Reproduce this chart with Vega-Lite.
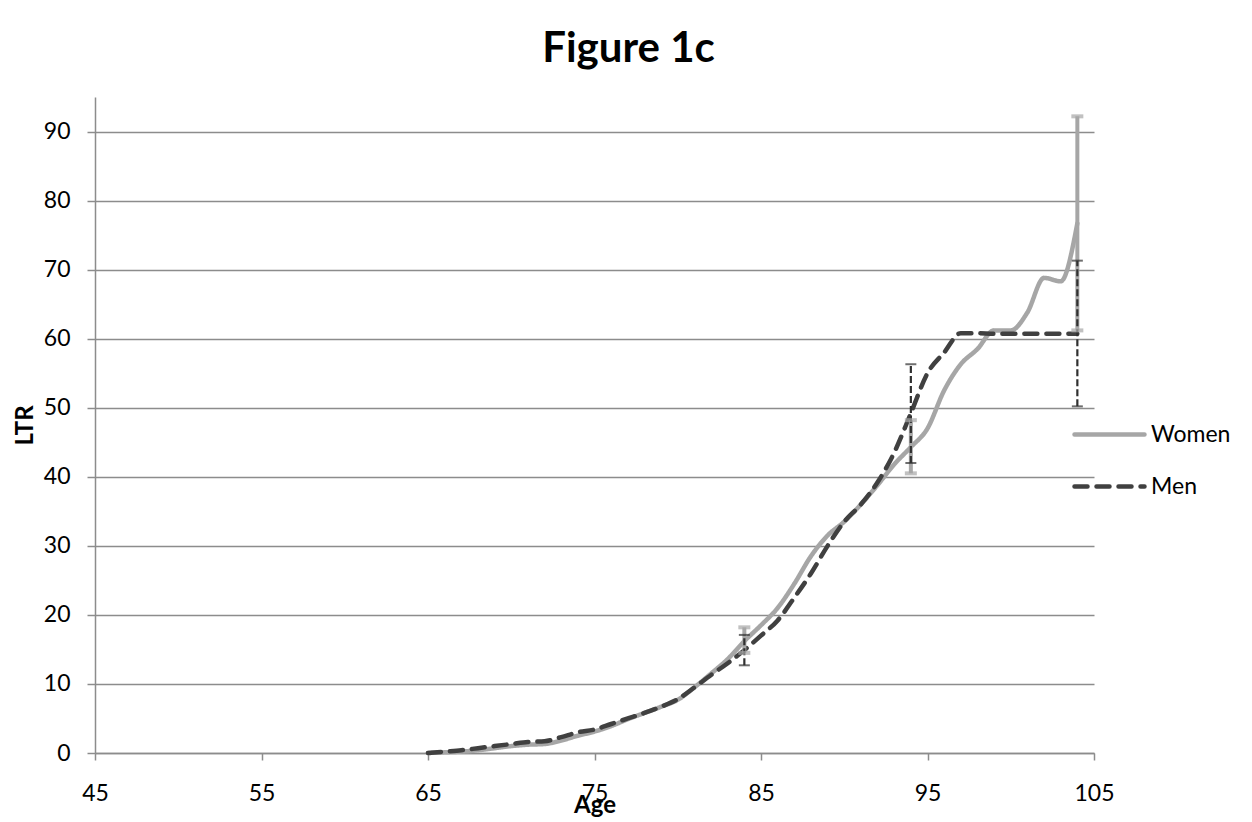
{
  "$schema": "https://vega.github.io/schema/vega-lite/v6.json",
  "autosize": "none",
  "width": 999,
  "height": 656,
  "padding": {"left": 95, "top": 97, "right": 158, "bottom": 69},
  "background": "white",
  "config": {
    "font": "Lato",
    "view": {"stroke": null},
    "axis": {"labelFont": "Lato", "titleFont": "Lato", "labelColor": "black", "titleColor": "black"}
  },
  "title": {"text": "Figure 1c", "fontSize": 42, "fontWeight": "bold", "font": "Lato", "color": "black", "anchor": "middle", "offset": 26, "dx": 34},
  "datasets": {
    "lines": [
      {"age": 65, "LTR": 0, "sex": "Women"}, {"age": 66, "LTR": 0.1, "sex": "Women"}, {"age": 67, "LTR": 0.2, "sex": "Women"}, {"age": 68, "LTR": 0.4, "sex": "Women"}, {"age": 69, "LTR": 0.7, "sex": "Women"}, {"age": 70, "LTR": 1.0, "sex": "Women"}, {"age": 71, "LTR": 1.2, "sex": "Women"}, {"age": 72, "LTR": 1.3, "sex": "Women"}, {"age": 73, "LTR": 1.8, "sex": "Women"}, {"age": 74, "LTR": 2.5, "sex": "Women"}, {"age": 75, "LTR": 3.1, "sex": "Women"}, {"age": 76, "LTR": 3.9, "sex": "Women"}, {"age": 77, "LTR": 4.9, "sex": "Women"}, {"age": 78, "LTR": 5.8, "sex": "Women"}, {"age": 79, "LTR": 6.7, "sex": "Women"}, {"age": 80, "LTR": 7.7, "sex": "Women"}, {"age": 81, "LTR": 9.5, "sex": "Women"}, {"age": 82, "LTR": 11.5, "sex": "Women"}, {"age": 83, "LTR": 13.6, "sex": "Women"}, {"age": 84, "LTR": 16.2, "sex": "Women"}, {"age": 85, "LTR": 18.5, "sex": "Women"}, {"age": 86, "LTR": 21, "sex": "Women"}, {"age": 87, "LTR": 24.5, "sex": "Women"}, {"age": 88, "LTR": 28.5, "sex": "Women"}, {"age": 89, "LTR": 31.5, "sex": "Women"}, {"age": 90, "LTR": 33.5, "sex": "Women"}, {"age": 91, "LTR": 36, "sex": "Women"}, {"age": 92, "LTR": 38.8, "sex": "Women"}, {"age": 93, "LTR": 41.8, "sex": "Women"}, {"age": 94, "LTR": 44.3, "sex": "Women"}, {"age": 95, "LTR": 47, "sex": "Women"}, {"age": 96, "LTR": 52.5, "sex": "Women"}, {"age": 97, "LTR": 56.3, "sex": "Women"}, {"age": 98, "LTR": 58.5, "sex": "Women"}, {"age": 99, "LTR": 61.2, "sex": "Women"}, {"age": 100, "LTR": 61.2, "sex": "Women"}, {"age": 101, "LTR": 63.8, "sex": "Women"}, {"age": 102, "LTR": 68.8, "sex": "Women"}, {"age": 103, "LTR": 68.3, "sex": "Women"}, {"age": 104, "LTR": 76.7, "sex": "Women"},
      {"age": 65, "LTR": 0, "sex": "Men"}, {"age": 66, "LTR": 0.2, "sex": "Men"}, {"age": 67, "LTR": 0.4, "sex": "Men"}, {"age": 68, "LTR": 0.7, "sex": "Men"}, {"age": 69, "LTR": 1.0, "sex": "Men"}, {"age": 70, "LTR": 1.3, "sex": "Men"}, {"age": 71, "LTR": 1.6, "sex": "Men"}, {"age": 72, "LTR": 1.7, "sex": "Men"}, {"age": 73, "LTR": 2.3, "sex": "Men"}, {"age": 74, "LTR": 3.0, "sex": "Men"}, {"age": 75, "LTR": 3.4, "sex": "Men"}, {"age": 76, "LTR": 4.2, "sex": "Men"}, {"age": 77, "LTR": 5.0, "sex": "Men"}, {"age": 78, "LTR": 5.8, "sex": "Men"}, {"age": 79, "LTR": 6.7, "sex": "Men"}, {"age": 80, "LTR": 7.8, "sex": "Men"}, {"age": 81, "LTR": 9.5, "sex": "Men"}, {"age": 82, "LTR": 11.3, "sex": "Men"}, {"age": 83, "LTR": 13.0, "sex": "Men"}, {"age": 84, "LTR": 14.9, "sex": "Men"}, {"age": 85, "LTR": 17, "sex": "Men"}, {"age": 86, "LTR": 19.2, "sex": "Men"}, {"age": 87, "LTR": 22.5, "sex": "Men"}, {"age": 88, "LTR": 26, "sex": "Men"}, {"age": 89, "LTR": 30, "sex": "Men"}, {"age": 90, "LTR": 33.5, "sex": "Men"}, {"age": 91, "LTR": 36, "sex": "Men"}, {"age": 92, "LTR": 39.2, "sex": "Men"}, {"age": 93, "LTR": 43.5, "sex": "Men"}, {"age": 94, "LTR": 49.2, "sex": "Men"}, {"age": 95, "LTR": 55, "sex": "Men"}, {"age": 96, "LTR": 58, "sex": "Men"}, {"age": 97, "LTR": 60.8, "sex": "Men"}, {"age": 98, "LTR": 60.8, "sex": "Men"}, {"age": 99, "LTR": 60.7, "sex": "Men"}, {"age": 100, "LTR": 60.7, "sex": "Men"}, {"age": 101, "LTR": 60.7, "sex": "Men"}, {"age": 102, "LTR": 60.7, "sex": "Men"}, {"age": 103, "LTR": 60.7, "sex": "Men"}, {"age": 104, "LTR": 60.7, "sex": "Men"}
    ],
    "errs": [
      {"age": 84, "lo": 14.5, "hi": 18.2, "sex": "Women"},
      {"age": 94, "lo": 40.5, "hi": 48.2, "sex": "Women"},
      {"age": 104, "lo": 61.2, "hi": 92.2, "sex": "Women"},
      {"age": 84, "lo": 12.7, "hi": 17.1, "sex": "Men"},
      {"age": 94, "lo": 42.0, "hi": 56.3, "sex": "Men"},
      {"age": 104, "lo": 50.2, "hi": 71.3, "sex": "Men"}
    ]
  },
  "encoding": {
    "x": {"field": "age", "type": "quantitative",
      "scale": {"domain": [45, 105], "nice": false, "zero": false},
      "axis": {"title": "Age", "values": [45, 55, 65, 75, 85, 95, 105], "grid": false, "labelFlush": false, "tickSize": 7, "tickColor": "#8c8c8c", "tickWidth": 1.5, "domainColor": "#8c8c8c", "domainWidth": 1.5, "labelFontSize": 23, "labelPadding": 22, "titleFontSize": 24, "titleFontWeight": "bold", "titlePadding": -12}}
  },
  "layer": [
    {
      "data": {"name": "lines"},
      "mark": {"type": "line", "interpolate": "monotone", "strokeWidth": 4.5, "strokeCap": "round"},
      "encoding": {
        "y": {"field": "LTR", "type": "quantitative",
          "scale": {"domain": [0, 95], "nice": false},
          "axis": {"title": "LTR", "values": [0, 10, 20, 30, 40, 50, 60, 70, 80, 90], "grid": true, "gridColor": "#8c8c8c", "gridWidth": 1.5, "tickSize": 8, "tickColor": "#8c8c8c", "tickWidth": 1.5, "domainColor": "#8c8c8c", "domainWidth": 1.5, "labelFontSize": 23, "labelPadding": 17, "titleFontSize": 24, "titleFontWeight": "bold", "titlePadding": 6}},
        "color": {"field": "sex", "type": "nominal",
          "scale": {"domain": ["Women", "Men"], "range": ["#a6a6a6", "#404040"]},
          "legend": {"title": null, "orient": "none", "legendX": 977, "legendY": 300, "symbolType": "stroke", "symbolSize": 4900, "symbolStrokeWidth": 4.5, "labelFontSize": 23, "labelFont": "Lato", "labelColor": "black", "labelOffset": 4, "rowPadding": 2, "padding": 0,
            "encode": {"symbols": {"update": {"strokeCap": {"value": "round"}, "strokeWidth": {"value": 4.5}}}}}},
        "strokeDash": {"field": "sex", "type": "nominal",
          "scale": {"domain": ["Women", "Men"], "range": [[1, 0], [13, 9]]},
          "legend": {"title": null, "orient": "none", "legendX": 977, "legendY": 300, "symbolType": "stroke", "symbolSize": 4900, "symbolStrokeWidth": 4.5, "labelFontSize": 23, "labelFont": "Lato", "labelColor": "black", "labelOffset": 4, "rowPadding": 2, "padding": 0,
            "encode": {"symbols": {"update": {"strokeCap": {"value": "round"}, "strokeWidth": {"value": 4.5}}}}}}
      }
    },
    {
      "data": {"name": "errs"},
      "transform": [{"filter": "datum.sex === 'Women'"}],
      "mark": {"type": "rule", "color": "#a6a6a6", "strokeWidth": 4},
      "encoding": {
        "y": {"field": "lo", "type": "quantitative"},
        "y2": {"field": "hi"}
      }
    },
    {
      "data": {"name": "errs"},
      "transform": [{"filter": "datum.sex === 'Men'"}],
      "mark": {"type": "rule", "color": "#303030", "strokeWidth": 2.2, "strokeDash": [7, 3]},
      "encoding": {
        "y": {"field": "lo", "type": "quantitative"},
        "y2": {"field": "hi"}
      }
    },
    {
      "data": {"name": "errs"},
      "transform": [{"filter": "datum.sex === 'Women'"}],
      "mark": {"type": "tick", "orient": "horizontal", "size": 12, "thickness": 4, "color": "#a6a6a6"},
      "encoding": {"y": {"field": "lo", "type": "quantitative"}}
    },
    {
      "data": {"name": "errs"},
      "transform": [{"filter": "datum.sex === 'Women'"}],
      "mark": {"type": "tick", "orient": "horizontal", "size": 12, "thickness": 4, "color": "#a6a6a6"},
      "encoding": {"y": {"field": "hi", "type": "quantitative"}}
    },
    {
      "data": {"name": "errs"},
      "transform": [{"filter": "datum.sex === 'Men'"}],
      "mark": {"type": "tick", "orient": "horizontal", "size": 11, "thickness": 2, "color": "#303030"},
      "encoding": {"y": {"field": "lo", "type": "quantitative"}}
    },
    {
      "data": {"name": "errs"},
      "transform": [{"filter": "datum.sex === 'Men'"}],
      "mark": {"type": "tick", "orient": "horizontal", "size": 11, "thickness": 2, "color": "#303030"},
      "encoding": {"y": {"field": "hi", "type": "quantitative"}}
    }
  ]
}
